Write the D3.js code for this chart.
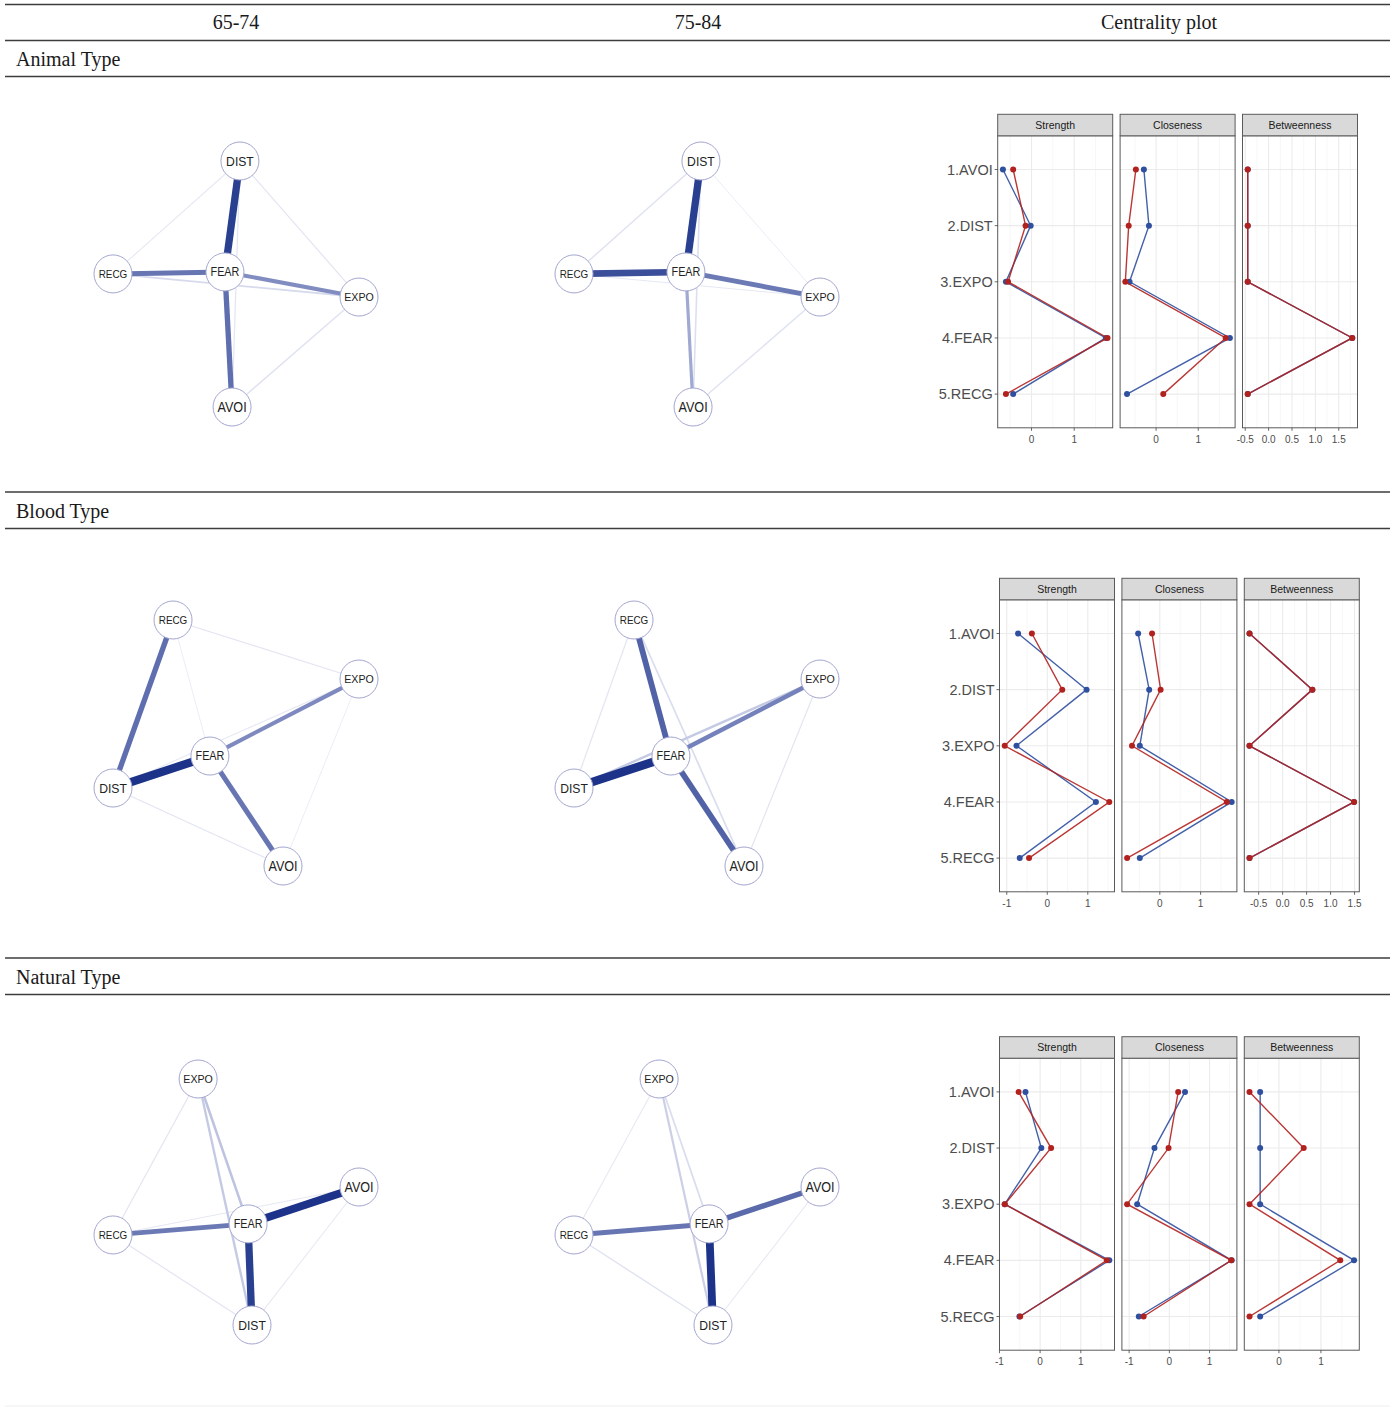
<!DOCTYPE html>
<html><head><meta charset="utf-8">
<script src="https://cdn.jsdelivr.net/npm/d3@7"></script>
<style>body{margin:0;background:#fff} svg{display:block}</style>
</head><body><svg id="c" width="1400" height="1408"></svg>
<script>
// ---------------- DATA ----------------
const columnHeaders = ["65-74", "75-84", "Centrality plot"];
const sectionTitles = ["Animal Type", "Blood Type", "Natural Type"];
const nodeNames = ["AVOI", "DIST", "EXPO", "FEAR", "RECG"];
const itemLabels = ["1.AVOI", "2.DIST", "3.EXPO", "4.FEAR", "5.RECG"];
const measureNames = ["Strength", "Closeness", "Betweenness"];

// network layouts (normalised 0..1, order = nodeNames)
const animalLayoutX  = [0.484, 0.516, 1.000, 0.455, 0.000];
const animalLayoutY  = [1.000, 0.000, 0.553, 0.451, 0.459];
const bloodLayoutX   = [0.691, 0.000, 1.000, 0.394, 0.244];
const bloodLayoutY   = [1.000, 0.683, 0.240, 0.553, 0.000];
const naturalLayoutX = [1.000, 0.565, 0.346, 0.549, 0.000];
const naturalLayoutY = [0.439, 1.000, 0.000, 0.589, 0.634];

// edges: [from, to, weight]
const animalEdges6574 = [["FEAR","DIST",0.42],["FEAR","AVOI",0.30],["FEAR","RECG",0.28],["FEAR","EXPO",0.22],
  ["RECG","EXPO",0.09],["DIST","RECG",0.04],["DIST","EXPO",0.05],["EXPO","AVOI",0.06],["DIST","AVOI",0.05]];
const animalEdges7584 = [["FEAR","DIST",0.42],["FEAR","RECG",0.38],["FEAR","EXPO",0.27],["FEAR","AVOI",0.17],
  ["DIST","RECG",0.06],["DIST","EXPO",0.03],["EXPO","AVOI",0.06],["DIST","AVOI",0.07],["RECG","EXPO",0.04]];
const bloodEdges6574 = [["DIST","FEAR",0.48],["RECG","DIST",0.30],["FEAR","EXPO",0.23],["FEAR","AVOI",0.28],
  ["RECG","EXPO",0.05],["DIST","AVOI",0.05],["EXPO","AVOI",0.03],["RECG","FEAR",0.03],["DIST","EXPO",0.04]];
const bloodEdges7584 = [["DIST","FEAR",0.50],["RECG","FEAR",0.33],["FEAR","AVOI",0.33],["FEAR","EXPO",0.25],
  ["DIST","EXPO",0.12],["RECG","AVOI",0.08],["RECG","DIST",0.05],["EXPO","AVOI",0.05]];
const naturalEdges6574 = [["FEAR","AVOI",0.45],["FEAR","DIST",0.42],["FEAR","RECG",0.27],["EXPO","FEAR",0.13],
  ["EXPO","DIST",0.12],["EXPO","RECG",0.05],["RECG","DIST",0.05],["DIST","AVOI",0.04],["RECG","AVOI",0.04]];
const naturalEdges7584 = [["FEAR","DIST",0.45],["FEAR","AVOI",0.31],["FEAR","RECG",0.28],["EXPO","FEAR",0.08],
  ["EXPO","DIST",0.11],["EXPO","RECG",0.04],["RECG","DIST",0.06],["DIST","AVOI",0.04]];

// centrality (standardised), order = itemLabels; blue series / red series
const animalStrengthBlue = [-0.67, -0.02, -0.60, 1.74, -0.43];
const animalStrengthRed  = [-0.43, -0.14, -0.55, 1.78, -0.60];
const animalClosenessBlue = [-0.29, -0.17, -0.63, 1.75, -0.69];
const animalClosenessRed  = [-0.48, -0.65, -0.73, 1.65, 0.17];
const animalBetweennessBlue = [-0.447, -0.447, -0.447, 1.789, -0.447];
const animalBetweennessRed  = [-0.447, -0.447, -0.447, 1.789, -0.447];

const bloodStrengthBlue = [-0.72, 0.97, -0.76, 1.20, -0.68];
const bloodStrengthRed  = [-0.38, 0.37, -1.05, 1.53, -0.45];
const bloodClosenessBlue = [-0.53, -0.26, -0.49, 1.76, -0.49];
const bloodClosenessRed  = [-0.19, 0.02, -0.68, 1.64, -0.80];
const bloodBetweennessBlue = [-0.69, 0.62, -0.69, 1.49, -0.69];
const bloodBetweennessRed  = [-0.69, 0.62, -0.69, 1.49, -0.69];

const naturalStrengthBlue = [-0.36, 0.03, -0.87, 1.70, -0.51];
const naturalStrengthRed  = [-0.53, 0.27, -0.87, 1.64, -0.49];
const naturalClosenessBlue = [0.39, -0.37, -0.80, 1.55, -0.76];
const naturalClosenessRed  = [0.22, -0.02, -1.05, 1.54, -0.64];
const naturalBetweennessBlue = [-0.447, -0.447, -0.447, 1.789, -0.447];
const naturalBetweennessRed  = [-0.70, 0.59, -0.70, 1.46, -0.70];

// x tick labels per panel
const animalTicks  = [[0, 1], [0, 1], [-0.5, 0, 0.5, 1, 1.5]];
const bloodTicks   = [[-1, 0, 1], [0, 1], [-0.5, 0, 0.5, 1, 1.5]];
const naturalTicks = [[-1, 0, 1], [-1, 0, 1], [0, 1]];

// ---------------- ASSEMBLY ----------------
const layouts = [[animalLayoutX, animalLayoutY], [bloodLayoutX, bloodLayoutY], [naturalLayoutX, naturalLayoutY]];
const edgeSets = [[animalEdges6574, animalEdges7584], [bloodEdges6574, bloodEdges7584], [naturalEdges6574, naturalEdges7584]];
const centrality = [
  [[animalStrengthBlue, animalStrengthRed], [animalClosenessBlue, animalClosenessRed], [animalBetweennessBlue, animalBetweennessRed]],
  [[bloodStrengthBlue, bloodStrengthRed], [bloodClosenessBlue, bloodClosenessRed], [bloodBetweennessBlue, bloodBetweennessRed]],
  [[naturalStrengthBlue, naturalStrengthRed], [naturalClosenessBlue, naturalClosenessRed], [naturalBetweennessBlue, naturalBetweennessRed]]
];
const tickSets = [animalTicks, bloodTicks, naturalTicks];

// ---------------- STYLE / GEOMETRY ----------------
const svg = d3.select("#c");
const serif = "'Liberation Serif', 'DejaVu Serif', serif";
const sans = "'Liberation Sans', Arial, Helvetica, sans-serif";
const ruleYs = [4.5, 40.5, 76.5, 492, 528.5, 958, 994.5];
const sectionBaselines = [66, 518, 984];
const headerX = [236, 698, 1159];
const netTop = [161, 620, 1079];
const netLeft = [113, 574];
const netSpan = 246;
const nodeR = 19;
const centTop = [114.3, 578.3, 1036.7];
const centLeft = [997.7, 999.5, 999.5];
const panelW = 115, panelGap = 7.4, stripH = 21.5, panelH = 292;
const blue = "#2f4f9f", red = "#b1221f";
const labelSize = {DIST: 13.5, AVOI: 14, FEAR: 12, RECG: 11, EXPO: 11.8};

// table rules
svg.selectAll("line.rule").data(ruleYs).join("line")
  .attr("x1", 5).attr("x2", 1390).attr("y1", d => d).attr("y2", d => d)
  .attr("stroke", "#3d3d3d").attr("stroke-width", 1.4);
svg.append("line").attr("x1", 5).attr("x2", 1390).attr("y1", 1406).attr("y2", 1406)
  .attr("stroke", "#eeeeee").attr("stroke-width", 1);

svg.selectAll("text.hdr").data(columnHeaders).join("text")
  .attr("x", (d, i) => headerX[i]).attr("y", 29).attr("text-anchor", "middle")
  .attr("font-family", serif).attr("font-size", 20).attr("fill", "#1a1a1a").text(d => d);
svg.selectAll("text.sec").data(sectionTitles).join("text")
  .attr("x", 16).attr("y", (d, i) => sectionBaselines[i])
  .attr("font-family", serif).attr("font-size", 20).attr("fill", "#1a1a1a").text(d => d);

// edge encodings
const edgeWidth = d3.scaleLinear().domain([0, 0.5]).range([0.4, 8.6]).clamp(true);
const edgeColor = d3.scaleLinear().domain([0, 0.1, 0.2, 0.45])
  .range(["#f2f3f9", "#d3d7eb", "#8a95c6", "#1c3389"]).clamp(true);

// networks
layouts.forEach(([lx, ly], r) => {
  [0, 1].forEach(c => {
    const xs = d3.scaleLinear().domain([0, 1]).range([netLeft[c], netLeft[c] + netSpan]);
    const ys = d3.scaleLinear().domain([0, 1]).range([netTop[r], netTop[r] + netSpan]);
    const pos = {};
    nodeNames.forEach((n, i) => pos[n] = [xs(lx[i]), ys(ly[i])]);
    const g = svg.append("g");
    const edges = edgeSets[r][c].slice().sort((a, b) => a[2] - b[2]);
    g.selectAll("line").data(edges).join("line")
      .attr("x1", d => pos[d[0]][0]).attr("y1", d => pos[d[0]][1])
      .attr("x2", d => pos[d[1]][0]).attr("y2", d => pos[d[1]][1])
      .attr("stroke", d => edgeColor(d[2])).attr("stroke-width", d => edgeWidth(d[2]));
    const nodes = g.selectAll("g.node").data(nodeNames).join("g")
      .attr("transform", d => `translate(${pos[d][0]},${pos[d][1]})`);
    nodes.append("circle").attr("r", nodeR).attr("fill", "#fff")
      .attr("stroke", "#a3a6cf").attr("stroke-width", 1);
    nodes.append("text").attr("text-anchor", "middle").attr("dy", "0.36em")
      .attr("transform", "scale(0.9,1)")
      .attr("font-family", sans).attr("font-size", d => labelSize[d]).attr("fill", "#222")
      .text(d => d);
  });
});

// centrality plots
centrality.forEach((measures, r) => {
  const top = centTop[r];
  const pTop = top + stripH, pBot = pTop + panelH;
  const y = d3.scalePoint().domain(itemLabels).range([pTop, pBot]).padding(0.6);
  measures.forEach((series, m) => {
    const x0 = centLeft[r] + m * (panelW + panelGap);
    const all = series[0].concat(series[1]);
    const [lo, hi] = d3.extent(all);
    const pad = (hi - lo) * 0.05;
    const x = d3.scaleLinear().domain([lo - pad, hi + pad]).range([x0, x0 + panelW]);
    const ticks = tickSets[r][m];
    const step = ticks[1] - ticks[0];
    const inDom = v => v >= lo - pad - 0.01 && v <= hi + pad + 0.01;
    const minors = [];
    for (let v = ticks[0] - step / 2 - step; v <= ticks[ticks.length - 1] + step; v += step) if (inDom(v)) minors.push(v);
    const g = svg.append("g");
    g.append("rect").attr("x", x0).attr("y", pTop).attr("width", panelW).attr("height", panelH).attr("fill", "#fff");
    g.selectAll("line.minor").data(minors).join("line")
      .attr("x1", d => x(d)).attr("x2", d => x(d)).attr("y1", pTop).attr("y2", pBot)
      .attr("stroke", "#f3f3f3").attr("stroke-width", 0.7);
    g.selectAll("line.major").data(ticks).join("line")
      .attr("x1", d => x(d)).attr("x2", d => x(d)).attr("y1", pTop).attr("y2", pBot)
      .attr("stroke", "#ebebeb").attr("stroke-width", 1.1);
    g.selectAll("line.hgrid").data(itemLabels).join("line")
      .attr("x1", x0).attr("x2", x0 + panelW).attr("y1", d => y(d)).attr("y2", d => y(d))
      .attr("stroke", "#ebebeb").attr("stroke-width", 1.1);
    // series
    [[series[0], blue], [series[1], red]].forEach(([vals, col]) => {
      const line = d3.line().x(d => x(d)).y((d, i) => y(itemLabels[i]));
      g.append("path").attr("d", line(vals)).attr("fill", "none")
        .attr("stroke", col).attr("stroke-width", 1.4).attr("stroke-opacity", 0.9);
      g.selectAll(null).data(vals).join("circle")
        .attr("cx", d => x(d)).attr("cy", (d, i) => y(itemLabels[i])).attr("r", 3)
        .attr("fill", col);
    });
    g.append("rect").attr("x", x0).attr("y", pTop).attr("width", panelW).attr("height", panelH)
      .attr("fill", "none").attr("stroke", "#5a5a5a").attr("stroke-width", 1);
    // strip
    g.append("rect").attr("x", x0).attr("y", top).attr("width", panelW).attr("height", stripH)
      .attr("fill", "#d9d9d9").attr("stroke", "#5a5a5a").attr("stroke-width", 1);
    g.append("text").attr("x", x0 + panelW / 2).attr("y", top + stripH / 2).attr("dy", "0.35em")
      .attr("text-anchor", "middle").attr("font-family", sans).attr("font-size", 10.5)
      .attr("fill", "#1a1a1a").text(measureNames[m]);
    // x axis
    const fmt = step < 1 ? (v => v.toFixed(1)) : (v => String(v));
    g.selectAll("line.xt").data(ticks).join("line")
      .attr("x1", d => x(d)).attr("x2", d => x(d)).attr("y1", pBot).attr("y2", pBot + 3)
      .attr("stroke", "#444").attr("stroke-width", 0.8);
    g.selectAll("text.xl").data(ticks).join("text")
      .attr("x", d => x(d)).attr("y", pBot + 15).attr("text-anchor", "middle")
      .attr("font-family", sans).attr("font-size", 10).attr("fill", "#4d4d4d").text(fmt);
    // y axis (first panel only)
    if (m === 0) {
      g.selectAll("line.yt").data(itemLabels).join("line")
        .attr("x1", x0 - 3).attr("x2", x0).attr("y1", d => y(d)).attr("y2", d => y(d))
        .attr("stroke", "#444").attr("stroke-width", 0.8);
      g.selectAll("text.yl").data(itemLabels).join("text")
        .attr("x", x0 - 5).attr("y", d => y(d)).attr("dy", "0.35em").attr("text-anchor", "end")
        .attr("font-family", sans).attr("font-size", 14.5).attr("fill", "#4d4d4d").text(d => d);
    }
  });
});
</script></body></html>
